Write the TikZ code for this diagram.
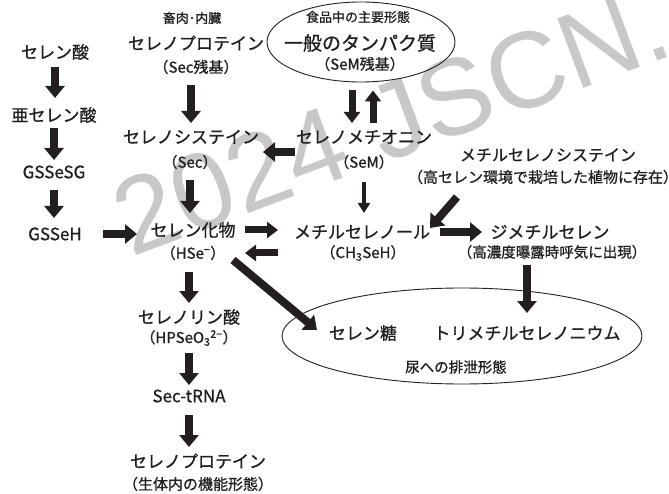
\documentclass[tikz,border=0pt]{standalone}
\usepackage{fontspec}
\setmainfont{Noto Sans CJK JP}[FakeBold=1]
\newfontfamily\wmfont{Liberation Sans}
\usetikzlibrary{arrows.meta,shapes.geometric}
\definecolor{ink}{RGB}{35,31,32}
\definecolor{wm}{RGB}{200,200,200}
\tikzset{
  lbl/.style={inner sep=0pt, text=ink, font=\fontsize{17}{20}\selectfont},
  big/.style={inner sep=0pt, text=ink, font=\fontsize{19}{22}\selectfont},
  note/.style={inner sep=0pt, text=ink, font=\fontsize{15}{18}\selectfont},
  tiny/.style={inner sep=0pt, text=ink, font=\fontsize{13}{16}\selectfont},
  blk/.style={draw=ink, line width=8pt, -{Triangle[width=19pt,length=12pt]}},
  mid/.style={draw=ink, line width=7pt, -{Triangle[width=16pt,length=11pt]}},
  slim/.style={draw=ink, line width=4pt, -{Triangle[width=12pt,length=10pt]}},
  oval/.style={ellipse, draw=ink, line width=0.9pt, inner sep=0pt},
}
\begin{document}
\begin{tikzpicture}[x=1pt,y=-1pt]
\useasboundingbox (0,0) rectangle (669,494);
% watermark
\node[anchor=base west, rotate=20.5, inner sep=0pt, text=wm, font=\wmfont\fontsize{108}{112}\selectfont] (wmark) at (131,258) {2024 JSCN.};

% left column
\node[lbl] (selenate) at (55,52) {セレン酸};
\node[lbl] (selenite) at (54,115) {亜セレン酸};
\node[lbl] (gssesg) at (54,172) {GSSeSG};
\node[lbl] (gsseh) at (55,234) {GSSeH};

% centre column
\node[tiny] (meat) at (192,18) {畜肉･内臓};
\node[lbl] (selprotA) at (196,43) {セレノプロテイン};
\node[note] (secres) at (196,67) {（Sec残基）};
\node[lbl] (sec) at (191,137) {セレノシステイン};
\node[note] (secabbr) at (190,162) {（Sec）};
\node[lbl] (hse) at (193,230) {セレン化物};
\node[note] (hseabbr) at (193,253) {（HSe\textsuperscript{−}）};
\node[lbl] (selp) at (189,317) {セレノリン酸};
\node[note] (selpabbr) at (189,338) {（HPSeO\textsubscript{3}\textsuperscript{2−}）};
\node[lbl] (sectrna) at (189,396) {Sec-tRNA};
\node[lbl] (selprotB) at (198,461) {セレノプロテイン};
\node[note] (funcform) at (198,484) {（生体内の機能形態）};

% top ellipse
\node[oval, minimum width=188pt, minimum height=80pt] (foodell) at (361,42) {};
\node[tiny] (foodmain) at (358,17) {食品中の主要形態};
\node[big] (protein) at (360,43) {一般のタンパク質};
\node[note] (semres) at (360,64) {（SeM残基）};

\node[lbl] (sem) at (364,137) {セレノメチオニン};
\node[note] (semabbr) at (364,162) {（SeM）};
\node[lbl] (mesh) at (362,232) {メチルセレノール};
\node[note] (meshabbr) at (363,253) {（CH\textsubscript{3}SeH）};

\node[lbl, font=\fontsize{16}{19}\selectfont] (mesc) at (548,155) {メチルセレノシステイン};
\node[note] (mescnote) at (543,177) {（高セレン環境で栽培した植物に存在）};
\node[lbl] (dms) at (550,232) {ジメチルセレン};
\node[note, font=\fontsize{14.5}{17}\selectfont] (dmsnote) at (552,252) {（高濃度曝露時呼気に出現）};

% bottom ellipse
\node[oval, minimum width=360pt, minimum height=96pt] (urineell) at (462,336) {};
\node[lbl] (selsugar) at (363,333) {セレン糖};
\node[lbl] (tmse) at (527,333) {トリメチルセレノニウム};
\node[note, font=\fontsize{14.5}{17}\selectfont] (urine) at (456,367) {尿への排泄形態};

% arrows left column
\draw[blk] ([yshift=-15pt]selenate.center) -- ([yshift=17pt]selenite.center -| selenate.center);
\draw[blk] ([yshift=-13pt]selenite.center) -- ([yshift=12pt]gssesg.center);
\draw[blk] ([yshift=-18pt]gssesg.center) -- ([yshift=16pt]gsseh.center -| gssesg.center);
\draw[blk] ([xshift=48pt]gsseh.center) -- ([xshift=-56pt]gsseh.center -| hse.center);

% centre arrows
\draw[blk] ([yshift=-18pt]secres.center -| sec.center) -- ([yshift=14pt]sec.center);
\draw[blk] ([yshift=-18pt]secabbr.center) -- ([yshift=17pt]hse.center -| secabbr.center);
\draw[mid] ([xshift=52pt]hse.center) -- ([xshift=-84pt]hse.center -| mesh.center);
\draw[mid] ([xshift=-85pt]meshabbr.center) -- ([xshift=52pt]hseabbr.center);
\draw[blk] ([yshift=-19pt]hseabbr.center -| selp.center) -- ([yshift=14pt]selp.center);
\draw[blk] ([yshift=-15pt]selpabbr.center) -- ([yshift=11pt]sectrna.center);
\draw[blk] ([yshift=-19pt]sectrna.center) -- ([yshift=14pt]selprotB.center -| sectrna.center);
\draw[blk] ([xshift=40pt,yshift=-7pt]hseabbr.center) -- ([xshift=-46pt,yshift=3pt]selsugar.center);

% right arrows
\draw[mid] ([xshift=-9pt,yshift=-8pt]foodell.south) -- ([xshift=-12pt,yshift=14pt]sem.center);
\draw[mid] ([xshift=9pt,yshift=14pt]sem.center) -- ([xshift=12pt,yshift=-8pt]foodell.south);
\draw[blk] ([xshift=-69pt,yshift=-15pt]sem.center) -- ([xshift=72pt,yshift=-15pt]sec.center);
\draw[slim] ([yshift=-20pt]semabbr.center) -- ([yshift=19pt]mesh.center -| semabbr.center);
\draw[blk] ([xshift=-86pt,yshift=-20pt]mescnote.center) -- ([xshift=68pt,yshift=4pt]mesh.center);
\draw[blk] ([xshift=78pt]mesh.center) -- ([xshift=-68pt]mesh.center -| dms.center);
\draw[blk] ([yshift=-13pt]dmsnote.center -| tmse.center) -- ([yshift=20pt]tmse.center);
\end{tikzpicture}
\end{document}
